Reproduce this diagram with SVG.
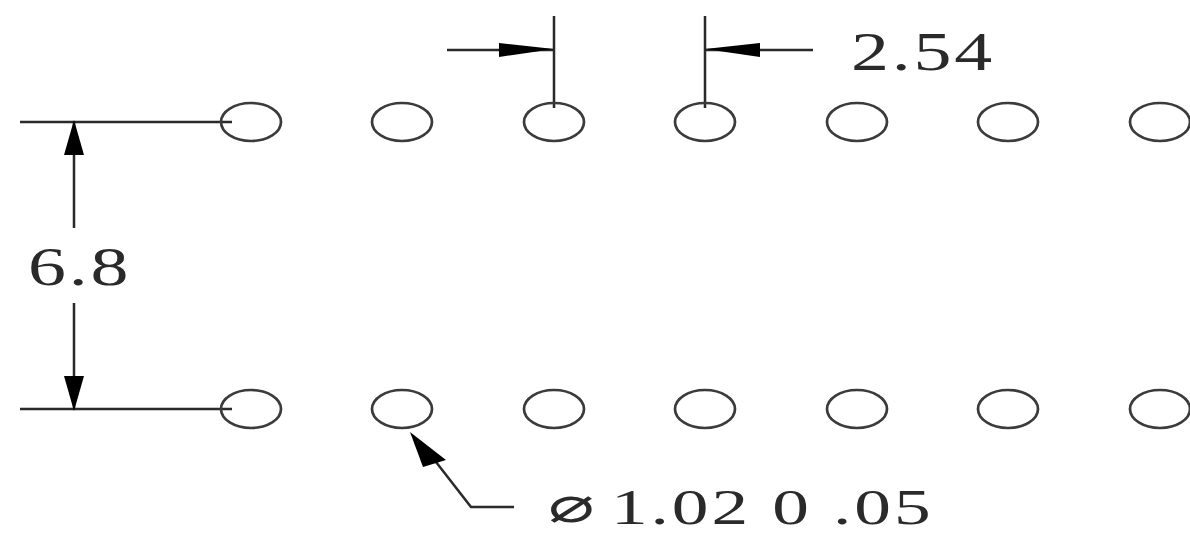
<svg xmlns="http://www.w3.org/2000/svg" width="1190" height="534" viewBox="0 0 1190 534">
<style>
.hole{fill:none;stroke:#3a3a3a;stroke-width:2.7}
.ln{fill:none;stroke:#2a2a2a;stroke-width:2.5}
.head{fill:#000;stroke:none}
.t{font-family:"Liberation Serif","Times New Roman",serif;font-size:55px;letter-spacing:2px;fill:#2c2c2c}
</style>
<defs><filter id="soft" x="-5%" y="-5%" width="110%" height="110%"><feGaussianBlur stdDeviation="0.6"/></filter></defs>
<rect width="1190" height="534" fill="#fff"/>
<g filter="url(#soft)">
<g id="connectors">
<path class="ln" d="M20 122H232M20 409H232M74 122V228M74 303V409"/>
<path class="ln" d="M447 50H554M554 16V108M705 16V108M705 50H813"/>
<path class="ln" d="M436 462L471 507H514"/>
<polygon class="head" points="74,120 84,155 64,155"/>
<polygon class="head" points="74,411 84,376 64,376"/>
<polygon class="head" points="554,49 499,43 499,57"/>
<polygon class="head" points="705,49 760,43 760,57"/>
<polygon class="head" points="410,432 446,460 423,467"/>
</g>
<g id="top-row">
<ellipse id="hole-t1" class="hole" cx="251" cy="122" rx="30" ry="19"/>
<ellipse id="hole-t2" class="hole" cx="402" cy="122" rx="30" ry="19"/>
<ellipse id="hole-t3" class="hole" cx="554" cy="122" rx="30" ry="19"/>
<ellipse id="hole-t4" class="hole" cx="705" cy="122" rx="30" ry="19"/>
<ellipse id="hole-t5" class="hole" cx="857" cy="122" rx="30" ry="19"/>
<ellipse id="hole-t6" class="hole" cx="1008" cy="122" rx="30" ry="19"/>
<ellipse id="hole-t7" class="hole" cx="1160" cy="122" rx="30" ry="19"/>
</g>
<g id="bottom-row">
<ellipse id="hole-b1" class="hole" cx="251" cy="409" rx="30" ry="19"/>
<ellipse id="hole-b2" class="hole" cx="402" cy="409" rx="30" ry="19"/>
<ellipse id="hole-b3" class="hole" cx="554" cy="409" rx="30" ry="19"/>
<ellipse id="hole-b4" class="hole" cx="705" cy="409" rx="30" ry="19"/>
<ellipse id="hole-b5" class="hole" cx="857" cy="409" rx="30" ry="19"/>
<ellipse id="hole-b6" class="hole" cx="1008" cy="409" rx="30" ry="19"/>
<ellipse id="hole-b7" class="hole" cx="1160" cy="409" rx="30" ry="19"/>
</g>
<g id="labels">
<text class="t" transform="translate(851 70) scale(1.38 1)">2.54</text>
<text class="t" transform="translate(28 285) scale(1.38 1)">6.8</text>
<text class="t" style="font-size:51px" transform="translate(611 523.5) scale(1.44 1)">1.02 0 .05</text>
<text class="t" style="font-family:'DejaVu Sans',sans-serif;font-size:50px;letter-spacing:0" transform="translate(548 522) scale(1.55 1)">⌀</text>
</g>
</g>
</svg>
